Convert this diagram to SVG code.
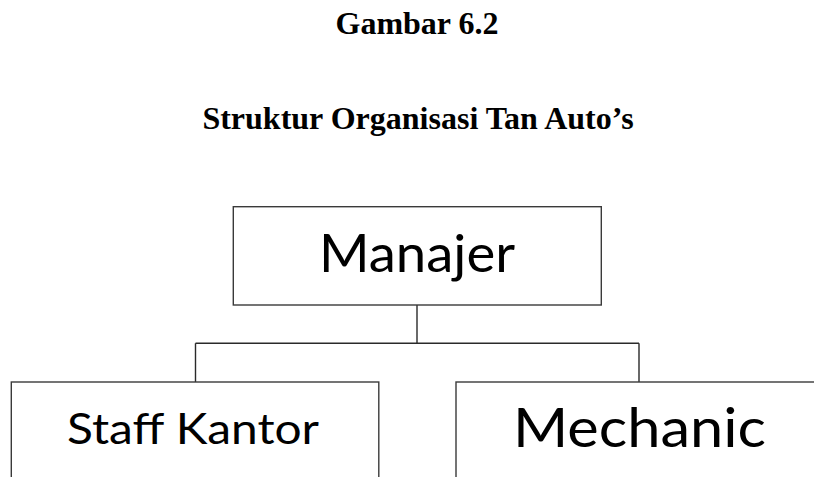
<svg xmlns="http://www.w3.org/2000/svg" width="814" height="477" viewBox="0 0 814 477">
<style>
.title{font-family:"Liberation Serif","Times New Roman",serif;font-weight:bold;font-size:32px;fill:#000;text-anchor:middle}
.box{fill:#fff;stroke:#3a3a3a;stroke-width:1.4}
.lbl{font-family:Lato,"Open Sans","Liberation Sans",sans-serif;fill:#000;text-anchor:middle}
.conn{fill:none;stroke:#2a2a2a;stroke-width:1.4}
</style>
<rect width="814" height="477" fill="#fff"/>
<text class="title" x="417" y="34">Gambar 6.2</text>
<text class="title" x="418" y="129">Struktur Organisasi Tan Auto’s</text>
<g id="connectors">
<path class="conn" d="M417 305V343.3"/>
<path class="conn" d="M195.5 343.3H639M195.5 343.3V382M639 343.3V382"/>
</g>
<g id="manajer">
<rect class="box" x="233.3" y="206.7" width="368" height="98.3"/>
<text class="lbl" x="417" y="271.5" font-size="53" textLength="196" lengthAdjust="spacingAndGlyphs">Manajer</text>
</g>
<g id="staff-kantor">
<rect class="box" x="11.3" y="382" width="367.5" height="110"/>
<text class="lbl" x="193" y="443.5" font-size="43" textLength="252" lengthAdjust="spacingAndGlyphs">Staff Kantor</text>
</g>
<g id="mechanic">
<rect class="box" x="456" y="382" width="370" height="110"/>
<text class="lbl" x="639.5" y="447" font-size="55" textLength="253" lengthAdjust="spacingAndGlyphs">Mechanic</text>
</g>
</svg>
